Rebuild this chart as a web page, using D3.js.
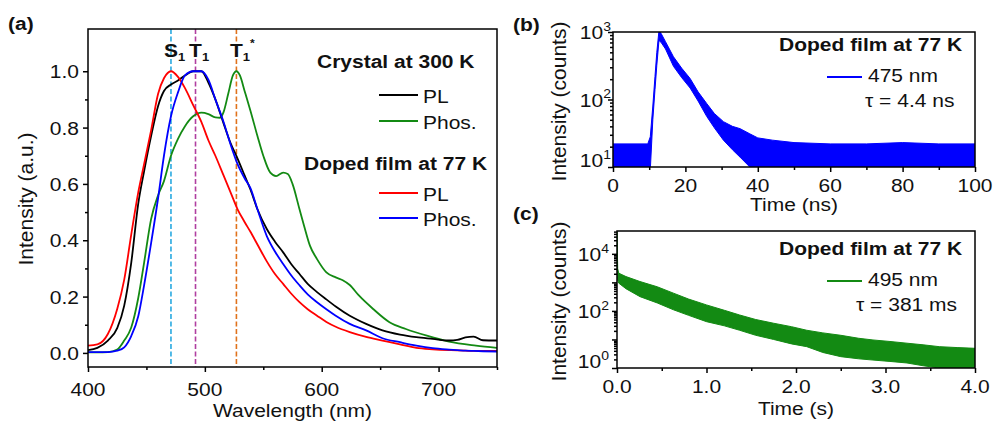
<!DOCTYPE html>
<html lang="en">
<head>
  <meta charset="UTF-8" />
  <title>PL / phosphorescence spectra and decays</title>
  <style>
    body { margin: 0; padding: 0; background: #fff; }
    svg { display: block; font-family: 'Liberation Sans', Arial, sans-serif; }
  </style>
  <script src="https://d3js.org/d3.v7.min.js"></script>
</head>
<body>
<script>
// ---- (a) steady-state spectra ----
const wl = [400, 408, 417, 425, 431, 437, 443, 448, 454, 460, 465, 471, 477, 483, 490, 497, 503, 509, 516, 522,
            528, 534, 539, 545, 553, 560, 567, 574, 581, 588, 596, 604, 612, 624, 638, 652, 667, 681, 695, 709,
            716, 723, 730, 738, 750];
const crystalPL = [0.010, 0.018, 0.044, 0.088, 0.168, 0.32, 0.53, 0.645, 0.77, 0.877, 0.93, 0.953, 0.967, 0.985, 1.0, 1.0, 0.96, 0.90, 0.815, 0.745,
                   0.69, 0.63, 0.58, 0.51, 0.44, 0.395, 0.357, 0.315, 0.28, 0.245, 0.216, 0.19, 0.165, 0.132, 0.103, 0.08, 0.065, 0.056, 0.05, 0.044,
                   0.046, 0.055, 0.058, 0.045, 0.044];
const filmPL = [0.026, 0.030, 0.067, 0.156, 0.26, 0.42, 0.57, 0.67, 0.79, 0.92, 0.975, 1.0, 0.98, 0.94, 0.88, 0.82, 0.755, 0.70, 0.63, 0.57,
                0.51, 0.465, 0.43, 0.385, 0.325, 0.28, 0.245, 0.21, 0.18, 0.155, 0.132, 0.11, 0.093, 0.074, 0.057, 0.044, 0.03, 0.018, 0.013, 0.01,
                0.009, 0.008, 0.007, 0.007, 0.007];
const filmPhos = [0.003, 0.003, 0.003, 0.008, 0.02, 0.06, 0.13, 0.24, 0.39, 0.55, 0.70, 0.84, 0.925, 0.985, 1.0, 1.0, 0.97, 0.90, 0.82, 0.74,
                  0.67, 0.62, 0.585, 0.51, 0.415, 0.36, 0.316, 0.275, 0.24, 0.208, 0.18, 0.155, 0.132, 0.103, 0.08, 0.052, 0.038, 0.026, 0.017, 0.012,
                  0.01, 0.008, 0.007, 0.006, 0.005];
const wlPhos = [400, 408, 417, 425, 431, 437, 443, 448, 454, 460, 465, 471, 477, 483, 490, 497, 503, 509, 513, 516,
                520, 524, 527, 530, 534, 539, 545, 550, 556, 561, 567, 571, 575, 581, 585, 590, 596, 604, 612, 618,
                624, 632, 644, 658, 672, 690, 709, 732, 750];
const crystalPhos = [0.002, 0.002, 0.003, 0.012, 0.044, 0.09, 0.195, 0.32, 0.475, 0.56, 0.61, 0.70, 0.76, 0.805, 0.84, 0.853, 0.848, 0.836, 0.835, 0.855,
                     0.92, 0.985, 1.0, 0.985, 0.93, 0.86, 0.77, 0.70, 0.64, 0.628, 0.64, 0.635, 0.60, 0.51, 0.45, 0.38, 0.333, 0.286, 0.268, 0.258,
                     0.241, 0.203, 0.156, 0.109, 0.085, 0.061, 0.04, 0.026, 0.018];
const markers = [471, 492, 527];   // S1, T1, T1*
const aXTicks = [400, 500, 600, 700];
const aYTicks = [0, 0.2, 0.4, 0.6, 0.8, 1.0];

// ---- (b) prompt decay, noise envelope (counts) ----
const tNs  = [0, 9.6, 10.3, 11, 11.6, 12.1, 12.7, 13.3, 14.5, 16.7, 19, 21.3, 23.5, 25.9, 28, 30.5, 33, 35.1, 37.8, 40, 44, 50, 60, 70, 80, 90, 100];
const upNs = [22, 22, 28, 80, 220, 500, 1050, 950, 720, 430, 290, 205, 130, 87, 62, 47, 40, 37, 31, 27, 25, 23, 22, 22, 23, 22, 22];
const loNs = [9, 9, 9, 50, 140, 320, 750, 700, 560, 310, 210, 148, 95, 56, 38, 25, 18, 14, 10, 9, 9, 9, 9, 9, 9, 9, 9];
const bXTicks = [0, 20, 40, 60, 80, 100];
const bYExp = [1, 2, 3];

// ---- (c) delayed decay, noise envelope (counts) ----
const tS  = [0, 0.008, 0.02, 0.1, 0.257, 0.45, 0.63, 0.8, 1.0, 1.2, 1.37, 1.55, 1.75, 1.95, 2.12, 2.3, 2.5, 2.7, 2.86, 3.05, 3.24, 3.42, 3.6, 3.8, 4.0];
const upS = [60000, 3000, 2100, 1600, 1070, 700, 420, 260, 162, 105, 72, 50, 37, 28, 21, 17, 14, 11, 9.6, 8.5, 7.4, 6.5, 5.6, 5.2, 4.9];
const loS = [2500, 1200, 940, 600, 316, 190, 110, 70, 42, 30, 21, 14, 10, 7, 5.6, 3.5, 2.5, 2.1, 1.9, 1.7, 1.5, 1.2, 1.0, 1.0, 1.0];
const cXTicks = [0, 1, 2, 3, 4];
const cYExp = [0, 2, 4];

const GREEN = '#138a13', BLUE = '#0000ff', RED = '#ff0000';

const svg = d3.select('body').append('svg').attr('width', 993).attr('height', 422);

// horizontal text, slightly flattened like the original figure
function txt(g, x, y, s, o = {}) {
  const t = g.append('text')
    .attr('transform', `translate(${x},${y}) scale(1,0.9)`)
    .attr('text-anchor', o.anchor || 'start')
    .attr('font-size', o.size || 21)
    .attr('font-weight', o.bold ? 'bold' : null)
    .attr('fill', '#111');
  if (s != null) t.text(s);
  return t;
}
function vtxt(g, x, y, s) {
  g.append('text').attr('transform', `translate(${x},${y}) rotate(-90)`)
    .attr('text-anchor', 'middle').attr('font-size', 21).attr('fill', '#111').text(s);
}

function frame(g, box, id) {
  g.append('clipPath').attr('id', id).append('rect')
    .attr('x', box.l).attr('y', box.t).attr('width', box.r - box.l).attr('height', box.b - box.t);
}
function border(g, box) {
  g.append('rect').attr('x', box.l).attr('y', box.t).attr('width', box.r - box.l).attr('height', box.b - box.t)
    .attr('fill', 'none').attr('stroke', '#000').attr('stroke-width', 1.5);
}
function tickLines(g, axis) {
  g.call(axis).call(a => a.select('.domain').remove());
  g.selectAll('line').attr('stroke', '#000').attr('stroke-width', 1.5);
  g.selectAll('text').remove();
}

// =================== (a) ===================
const boxA = { l: 88, r: 497, t: 29, b: 367 };
const xA = d3.scaleLinear().domain([400, 750]).range([boxA.l, boxA.r]);
const yA = d3.scaleLinear().domain([-0.05, 1.15]).range([boxA.b, boxA.t]);
const gA = svg.append('g');
frame(gA, boxA, 'clipA');

tickLines(gA.append('g').attr('transform', `translate(0,${boxA.b})`), d3.axisBottom(xA).tickValues(aXTicks).tickSize(5));
tickLines(gA.append('g').attr('transform', `translate(0,${boxA.b})`), d3.axisBottom(xA).tickValues(d3.range(450, 751, 100)).tickSize(3));
tickLines(gA.append('g').attr('transform', `translate(${boxA.l},0)`), d3.axisLeft(yA).tickValues(aYTicks).tickSize(5));
tickLines(gA.append('g').attr('transform', `translate(${boxA.l},0)`), d3.axisLeft(yA).tickValues(d3.range(0.1, 1.1, 0.2)).tickSize(3));

aXTicks.forEach(v => txt(gA, xA(v), boxA.b + 29, v, { anchor: 'middle' }));
aYTicks.forEach(v => txt(gA, boxA.l - 9, yA(v) + 7, d3.format('.1f')(v), { anchor: 'end' }));

const plotA = gA.append('g').attr('clip-path', 'url(#clipA)');
const markColors = ['#29a9e0', '#b03fa0', '#e0721c'];
markers.forEach((m, i) => plotA.append('line')
  .attr('x1', xA(m)).attr('x2', xA(m)).attr('y1', boxA.t).attr('y2', boxA.b)
  .attr('stroke', markColors[i]).attr('stroke-width', 1.6).attr('stroke-dasharray', '5,2.5'));

const lineA = xs => d3.line().x((d, i) => xA(xs[i])).y(d => yA(d)).curve(d3.curveMonotoneX);
[[wlPhos, crystalPhos, GREEN], [wl, crystalPL, '#000'], [wl, filmPL, RED], [wl, filmPhos, BLUE]].forEach(([xs, ys, c]) =>
  plotA.append('path').datum(ys).attr('d', lineA(xs)).attr('fill', 'none').attr('stroke', c).attr('stroke-width', 1.8));

// state labels
const stateNames = [['S', '1', ''], ['T', '1', ''], ['T', '1', '*']];
stateNames.forEach(([main, sub, sup], i) => {
  const half = main === 'S' ? 7 : 6.4;
  const t = txt(gA, xA(markers[i]) - half, 57, null, { bold: true });
  t.append('tspan').text(main);
  t.append('tspan').attr('font-size', 13).attr('dy', 4).text(sub);
  if (sup) t.append('tspan').attr('font-size', 12).attr('dy', -15).text(sup);
});

// legend (a)
txt(gA, 317, 68, 'Crystal at 300 K', { bold: true });
txt(gA, 304, 170, 'Doped film at 77 K', { bold: true });
[['PL', '#000', 95], ['Phos.', GREEN, 121], ['PL', RED, 193], ['Phos.', BLUE, 218]].forEach(([s, c, y]) => {
  gA.append('line').attr('x1', 379).attr('x2', 418).attr('y1', y).attr('y2', y).attr('stroke', c).attr('stroke-width', 1.8);
  txt(gA, 423, y + 8, s);
});
border(gA, boxA);
txt(gA, 8, 30, '(a)', { bold: true });
vtxt(gA, 33, 199, 'Intensity (a.u.)');
txt(gA, (boxA.l + boxA.r) / 2, 417, 'Wavelength (nm)', { anchor: 'middle' });

// =================== (b) / (c) decay panels ===================
function decayPanel(opt) {
  const { box, xDom, yDom, xTicks, xMinor, yExp, ts, up, lo, color, id, fmt } = opt;
  const x = d3.scaleLinear().domain(xDom).range([box.l, box.r]);
  const y = d3.scaleLog().domain(yDom).range([box.b, box.t]);
  const g = svg.append('g');
  frame(g, box, id);

  const decades = yExp.map(e => Math.pow(10, e));
  const allLog = y.ticks().filter(v => v >= yDom[0] && v <= yDom[1]);
  const pow10 = allLog.filter(v => Math.abs(Math.log10(v) - Math.round(Math.log10(v))) < 1e-9);
  const minorLog = allLog.filter(v => !pow10.includes(v));

  tickLines(g.append('g').attr('transform', `translate(0,${box.b})`), d3.axisBottom(x).tickValues(xTicks).tickSize(5));
  tickLines(g.append('g').attr('transform', `translate(0,${box.b})`), d3.axisBottom(x).tickValues(xMinor).tickSize(3));
  tickLines(g.append('g').attr('transform', `translate(${box.l},0)`), d3.axisLeft(y).tickValues(pow10).tickSize(5));
  tickLines(g.append('g').attr('transform', `translate(${box.l},0)`), d3.axisLeft(y).tickValues(minorLog).tickSize(3));

  xTicks.forEach(v => txt(g, x(v), box.b + 25, fmt(v), { anchor: 'middle' }));
  yExp.forEach((e, i) => {
    const t = txt(g, box.l - opt.yLabGap, Math.min(y(decades[i]) + 7, box.b), null, { anchor: 'end' });
    t.append('tspan').text('10');
    t.append('tspan').attr('font-size', 14).attr('dy', -9).text(e);
  });

  const area = d3.area().x((d, i) => x(ts[i])).y0((d, i) => y(lo[i])).y1(d => y(d));
  g.append('g').attr('clip-path', `url(#${id})`).append('path').datum(up).attr('d', area)
    .attr('fill', color).attr('stroke', color).attr('stroke-width', 1);

  border(g, box);
  vtxt(g, 566, (box.t + box.b) / 2 + 2, 'Intensity (counts)');
  txt(g, (box.l + box.r) / 2, opt.xTitleY, opt.xTitle, { anchor: 'middle' });
  txt(g, 513, opt.tagY, opt.tag, { bold: true });

  txt(g, 779, opt.legY, 'Doped film at 77 K', { bold: true });
  g.append('line').attr('x1', 827).attr('x2', 862).attr('y1', opt.legY + 26).attr('y2', opt.legY + 26)
    .attr('stroke', color).attr('stroke-width', 1.8);
  txt(g, 868, opt.legY + 31, opt.wave);
  txt(g, opt.tauX, opt.legY + 56, opt.tau);
}

decayPanel({
  box: { l: 613, r: 975, t: 32, b: 167 }, xDom: [0, 100], yDom: [10, 1000],
  xTicks: bXTicks, xMinor: d3.range(10, 100, 20), yExp: bYExp, yLabGap: 2,
  ts: tNs, up: upNs, lo: loNs, color: BLUE, id: 'clipB', fmt: d3.format('d'),
  xTitle: 'Time (ns)', xTitleY: 211, tag: '(b)', tagY: 31,
  legY: 51, wave: '475 nm', tau: 'τ = 4.4 ns', tauX: 865
});
decayPanel({
  box: { l: 617, r: 975, t: 231, b: 368 }, xDom: [0, 4], yDom: [1, Math.pow(10, 4.8)],
  xTicks: cXTicks, xMinor: d3.range(0.5, 4, 1), yExp: cYExp, yLabGap: 8,
  ts: tS, up: upS, lo: loS, color: GREEN, id: 'clipC', fmt: d3.format('.1f'),
  xTitle: 'Time (s)', xTitleY: 415, tag: '(c)', tagY: 220,
  legY: 255, wave: '495 nm', tau: 'τ = 381 ms', tauX: 856
});
</script>
</body>
</html>
